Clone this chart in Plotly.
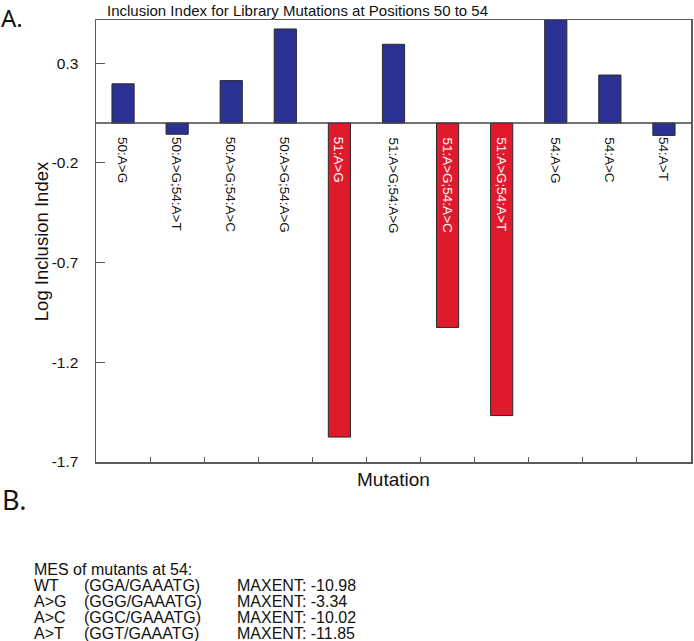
import plotly.graph_objects as go

categories = ["50:A>G", "50:A>G;54:A>T", "50:A>G;54:A>C", "50:A>G;54:A>G",
              "51:A>G", "51:A>G;54:A>G", "51:A>G;54:A>C", "51:A>G;54:A>T",
              "54:A>G", "54:A>C", "54:A>T"]
log_inclusion = [0.197, -0.056, 0.213, 0.472, -1.575, 0.395, -1.025, -1.467,
                 0.53, 0.241, -0.062]
y_ticks = [0.3, -0.2, -0.7, -1.2, -1.7]

mes_rows = [("WT", "(GGA/GAAATG)", "MAXENT: -10.98"),
            ("A>G", "(GGG/GAAATG)", "MAXENT: -3.34"),
            ("A>C", "(GGC/GAAATG)", "MAXENT: -10.02"),
            ("A>T", "(GGT/GAAATG)", "MAXENT: -11.85")]

BLUE = "#2B3193"
RED = "#E01A2D"
colors = [RED if (v < -0.5) else BLUE for v in log_inclusion]

W, H = 694, 641
L, R, T, B = 96, 1, 20, 179

fig = go.Figure()
fig.add_trace(go.Bar(
    x=categories, y=log_inclusion, width=0.41,
    marker=dict(color=colors, line=dict(color="#2a2a2a", width=1)),
    showlegend=False, hoverinfo="skip",
))

ax_line = "#5a5a5a"
fig.update_xaxes(
    type="category", categoryorder="array", categoryarray=categories,
    range=[-0.5, 10.5], showticklabels=False, tickson="boundaries",
    ticks="inside", ticklen=5, tickcolor=ax_line, tickwidth=1,
    showline=True, linecolor=ax_line, linewidth=1.5, mirror=True,
    showgrid=False, zeroline=False,
)
fig.update_yaxes(
    range=[-1.7, 0.517], tickvals=y_ticks, ticktext=[f"{v:.1f}" for v in y_ticks],
    ticks="inside", ticklen=9, tickcolor=ax_line, tickwidth=1,
    ticklabelstandoff=13,
    showline=True, linecolor=ax_line, linewidth=1.5, mirror=True,
    showgrid=False, zeroline=False,
    tickfont=dict(family="Liberation Sans, Arial", size=15.5, color="#111"),
)

# zero baseline
fig.add_shape(type="line", xref="paper", yref="y", x0=0, x1=1, y0=0, y1=0,
              line=dict(color="#444", width=1.5), layer="above")

annotations = []
for cat, v in zip(categories, log_inclusion):
    inside_red = v < -0.5
    annotations.append(dict(
        x=cat, y=-0.06, xref="x", yref="y", text=cat, showarrow=False,
        textangle=90, xanchor="center", yanchor="top",
        font=dict(family="Liberation Sans, Arial", size=13.5,
                  color="white" if inside_red else "#111"),
    ))

def px_x(px):
    return (px - L) / (W - L - R)

def px_y(py):
    return (H - B - py) / (H - T - B)

annotations.append(dict(x=px_x(41), y=0.5, xref="paper", yref="paper",
                        text="Log Inclusion Index", showarrow=False, textangle=-90,
                        xanchor="center", yanchor="middle",
                        font=dict(family="Liberation Sans, Arial", size=18.5, color="#111")))
annotations.append(dict(x=0.5, y=px_y(479), xref="paper", yref="paper",
                        text="Mutation", showarrow=False,
                        xanchor="center", yanchor="middle",
                        font=dict(family="Liberation Sans, Arial", size=19, color="#111")))
annotations.append(dict(x=px_x(298), y=px_y(10), xref="paper", yref="paper",
                        text="Inclusion Index for Library Mutations at Positions 50 to 54",
                        showarrow=False, xanchor="center", yanchor="middle",
                        font=dict(family="Liberation Sans, Arial", size=15, color="#111")))
annotations.append(dict(x=px_x(0), y=px_y(0), xref="paper", yref="paper",
                        text="A.", showarrow=False, xanchor="left", yanchor="top",
                        borderpad=0,
                        font=dict(family="Noto Sans", size=24, color="#111")))
annotations.append(dict(x=px_x(0), y=px_y(500), xref="paper", yref="paper",
                        text="B.", showarrow=False, xanchor="left", yanchor="middle",
                        font=dict(family="Noto Sans", size=27, color="#111")))

txt_font = dict(family="Liberation Sans, Arial", size=16, color="#111")
y0, dy = 569, 16.2
annotations.append(dict(x=px_x(32), y=px_y(y0), xref="paper", yref="paper",
                        text="MES of mutants at 54:", showarrow=False,
                        xanchor="left", yanchor="middle", font=txt_font))
for i, (a, b, c) in enumerate(mes_rows):
    yy = px_y(y0 + dy * (i + 1))
    for xx, t in ((32, a), (82, b), (235, c)):
        annotations.append(dict(x=px_x(xx), y=yy, xref="paper", yref="paper",
                                text=t, showarrow=False, xanchor="left",
                                yanchor="middle", font=txt_font))

fig.update_layout(
    width=W, height=H, margin=dict(l=L, r=R, t=T, b=B),
    paper_bgcolor="white", plot_bgcolor="white",
    annotations=annotations, bargap=0.59, hovermode=False,
)

post = ("document.body.style.margin='0';document.body.style.padding='0';"
        "var gd=document.getElementById('{plot_id}');"
        "Plotly.relayout(gd,{width:%d,height:%d});" % (W, H))
fig.write_html("out.html", post_script=post,
               config={"responsive": False, "displayModeBar": False, "staticPlot": True})
